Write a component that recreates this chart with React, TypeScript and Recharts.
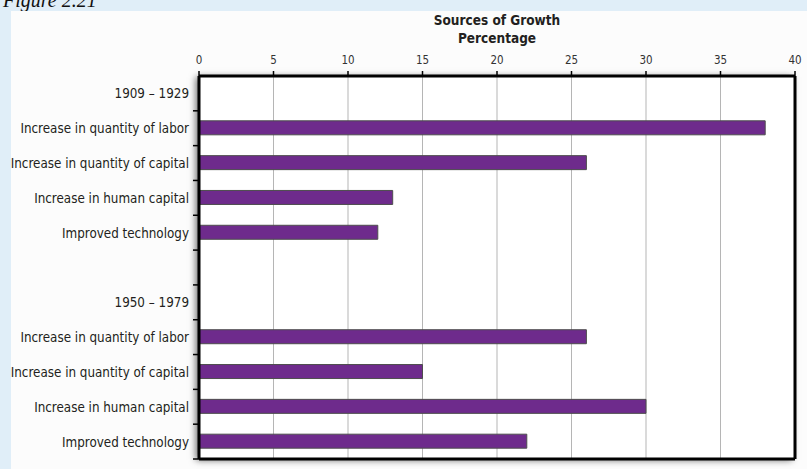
import React from "react";
import { BarChart, Bar, XAxis, YAxis, CartesianGrid } from "recharts";

const categories = [
  "1909 – 1929",
  "Increase in quantity of labor",
  "Increase in quantity of capital",
  "Increase in human capital",
  "Improved technology",
  "",
  "1950 – 1979",
  "Increase in quantity of labor",
  "Increase in quantity of capital",
  "Increase in human capital",
  "Improved technology",
];
const values: (number | null)[] = [null, 38, 26, 13, 12, null, null, 26, 15, 30, 22];
const xTicks = [0, 5, 10, 15, 20, 25, 30, 35, 40];
const titleLines = ["Sources of Growth", "Percentage"];
const figureLabel = "Figure 2.21";

const data = categories.map((name, i) => ({ key: i, name, value: values[i] }));

const labelFont = "'DejaVu Sans Condensed', 'Liberation Sans Narrow', sans-serif";
const CAT_TICK_MARGIN = 10;

const CategoryTick = (props: any) => {
  const { x, y, payload } = props;
  const edge = x + CAT_TICK_MARGIN;
  const half = payload && payload.offset ? payload.offset : 0;
  return (
    <g>
      <text
        x={x}
        y={y}
        dy={5}
        textAnchor="end"
        fontSize={13.3}
        fill="#231f20"
        fontFamily={labelFont}
      >
        {categories[payload.value]}
      </text>
      <line
        x1={edge - 6}
        x2={edge}
        y1={y + half}
        y2={y + half}
        stroke="#000"
        strokeWidth={1.5}
      />
    </g>
  );
};

export default function App() {
  return (
    <div
      style={{
        position: "absolute",
        left: 0,
        top: 0,
        width: 807,
        height: 469,
        overflow: "hidden",
        background: "#e0eef8",
      }}
    >
      <div
        style={{
          position: "absolute",
          left: 3,
          top: -10,
          fontFamily: "'Liberation Serif', serif",
          fontStyle: "italic",
          fontSize: 20,
          lineHeight: "20px",
          color: "#111",
          whiteSpace: "nowrap",
        }}
      >
        {figureLabel}
      </div>
      <div
        style={{
          position: "absolute",
          left: 11,
          top: 11,
          right: 0,
          bottom: 0,
          background: "#fcfcfc",
        }}
      />
      <div
        style={{
          position: "absolute",
          left: 199,
          top: 76,
          width: 596,
          height: 383,
          background: "#ffffff",
          boxShadow: "-3px 1px 7px rgba(0,0,0,0.6)",
        }}
      />
      <div
        style={{
          position: "absolute",
          left: 199,
          width: 596,
          top: 11,
          textAlign: "center",
          fontFamily: labelFont,
          fontWeight: "bold",
          fontSize: 13.5,
          lineHeight: "18px",
          color: "#231f20",
        }}
      >
        {titleLines.map((t) => (
          <div key={t}>{t}</div>
        ))}
      </div>
      <div style={{ position: "absolute", left: 0, top: 0 }}>
        <BarChart
          width={807}
          height={469}
          data={data}
          layout="vertical"
          margin={{ top: 46, right: 11, bottom: 9, left: 8 }}
          barCategoryGap={0}
        >
          <CartesianGrid
            xAxisId="top"
            yAxisId="cat"
            horizontal={false}
            vertical={true}
            stroke="#b5b5b5"
            strokeWidth={1}
          />
          <XAxis
            xAxisId="top"
            orientation="top"
            type="number"
            domain={[0, 40]}
            ticks={xTicks}
            height={30}
            tickSize={5}
            tickMargin={7}
            interval={0}
            axisLine={{ stroke: "#000", strokeWidth: 3 }}
            tickLine={{ stroke: "#000", strokeWidth: 1.5 }}
            tick={{ fontSize: 11.5, fill: "#333", fontFamily: labelFont }}
          />
          <XAxis
            xAxisId="bottom"
            orientation="bottom"
            type="number"
            domain={[0, 40]}
            height={1}
            tick={false}
            tickLine={false}
            axisLine={{ stroke: "#000", strokeWidth: 3 }}
          />
          <YAxis
            yAxisId="cat"
            orientation="left"
            type="category"
            dataKey="key"
            width={191}
            interval={0}
            tickSize={0}
            tickMargin={CAT_TICK_MARGIN}
            axisLine={{ stroke: "#000", strokeWidth: 3 }}
            tickLine={false}
            tick={<CategoryTick />}
          />
          <YAxis
            yAxisId="right"
            orientation="right"
            type="number"
            domain={[0, 11]}
            width={1}
            tick={false}
            tickLine={false}
            axisLine={{ stroke: "#000", strokeWidth: 3 }}
          />
          <Bar
            xAxisId="top"
            yAxisId="cat"
            dataKey="value"
            barSize={14}
            fill="#6e2b8c"
            stroke="#4d4d4d"
            strokeWidth={1}
            isAnimationActive={false}
          />
        </BarChart>
      </div>
    </div>
  );
}
